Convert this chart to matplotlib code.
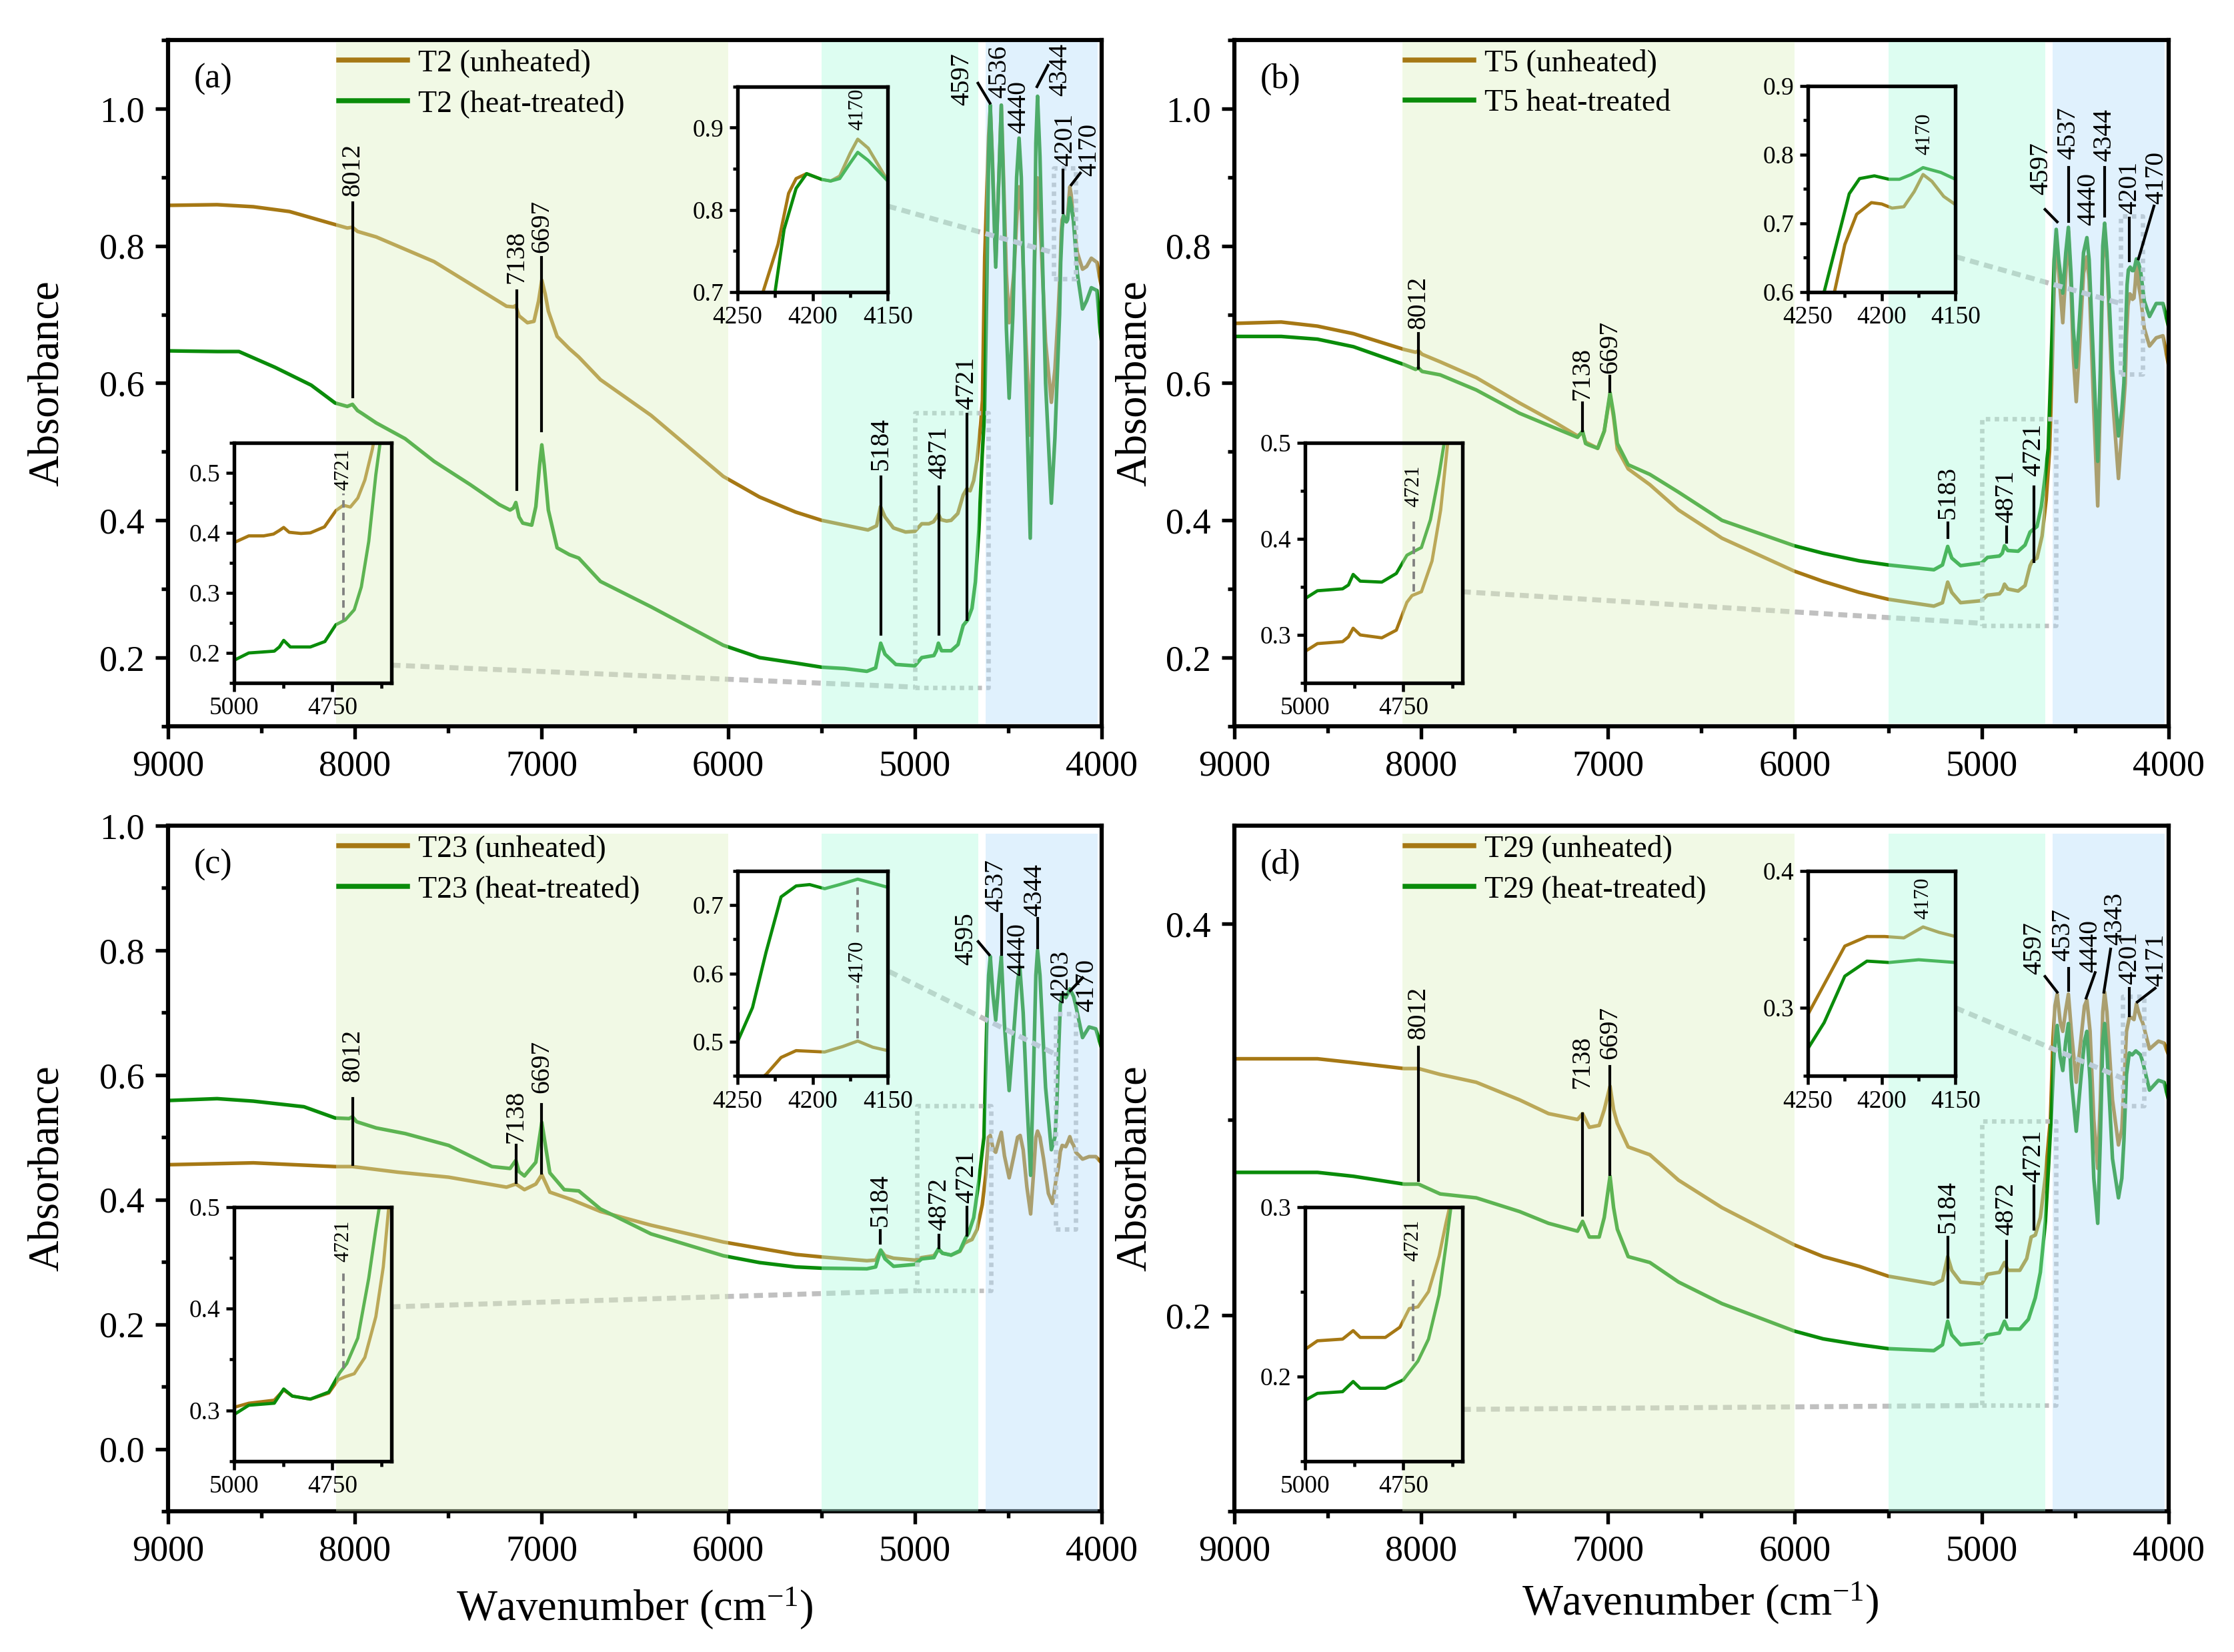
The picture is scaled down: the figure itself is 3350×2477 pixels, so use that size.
import numpy as np
import matplotlib
matplotlib.use('Agg')
import matplotlib.pyplot as plt
import matplotlib.transforms as mtransforms
from matplotlib.patches import Rectangle
from matplotlib.ticker import MultipleLocator

plt.rcParams['font.family'] = ['Liberation Serif', 'DejaVu Serif']
plt.rcParams['mathtext.fontset'] = 'custom'
plt.rcParams['mathtext.rm'] = 'Liberation Serif'
plt.rcParams['mathtext.it'] = 'Liberation Serif:italic'

# DATOS ====================================================================
# (a) T2
wn_a_u = [9000, 8737, 8543, 8349, 8105, 8040, 8012, 7985, 7885, 7575, 7342, 7187, 7150, 7138, 7120,
          7075, 7040, 7015, 6998, 6980, 6963, 6916, 6850, 6800, 6684, 6413, 6026, 5832, 5638, 5499,
          5251, 5205, 5184, 5160, 5115, 5050, 5000, 4963, 4925, 4900, 4885, 4874, 4860, 4830, 4806,
          4770, 4741, 4722, 4704, 4685, 4667, 4648, 4638, 4626, 4614, 4605, 4596, 4585, 4567, 4550,
          4537, 4525, 4510, 4495, 4470, 4452, 4442, 4430, 4405, 4382, 4365, 4352, 4343, 4330, 4300,
          4269, 4250, 4233, 4223, 4216, 4211, 4204, 4194, 4188, 4182, 4175, 4170, 4163, 4150, 4130,
          4102, 4080, 4055, 4025, 4007, 4000]
A_a_u = [0.859, 0.860, 0.857, 0.850, 0.831, 0.826, 0.827, 0.821, 0.813, 0.777, 0.738, 0.712, 0.711, 0.713, 0.698,
         0.688, 0.690, 0.720, 0.750, 0.730, 0.705, 0.668, 0.650, 0.638, 0.605, 0.553, 0.464, 0.434, 0.412, 0.400,
         0.386, 0.392, 0.420, 0.405, 0.389, 0.383, 0.384, 0.395, 0.395, 0.398, 0.404, 0.409, 0.401, 0.399, 0.400,
         0.410, 0.437, 0.446, 0.443, 0.458, 0.488, 0.539, 0.575, 0.783, 0.886, 0.960, 1.001, 0.930, 0.776, 0.900,
         1.005, 0.900, 0.760, 0.688, 0.760, 0.850, 0.886, 0.850, 0.660, 0.524, 0.700, 0.860, 0.899, 0.840, 0.660,
         0.572, 0.620, 0.700, 0.758, 0.820, 0.838, 0.844, 0.837, 0.835, 0.841, 0.869, 0.886, 0.875, 0.835, 0.790,
         0.766, 0.770, 0.782, 0.776, 0.749, 0.740]
wn_a_h = [9000, 8737, 8620, 8427, 8233, 8105, 8040, 8012, 7985, 7962, 7885, 7730, 7575, 7381, 7226,
          7168, 7150, 7137, 7120, 7100, 7052, 7030, 7010, 6998, 6985, 6963, 6916, 6850, 6800, 6684,
          6413, 6026, 5832, 5638, 5499, 5376, 5257, 5210, 5183, 5160, 5102, 5000, 4963, 4898, 4885,
          4874, 4857, 4806, 4769, 4741, 4717, 4694, 4676, 4657, 4639, 4626, 4614, 4605, 4596, 4585,
          4567, 4550, 4537, 4525, 4510, 4495, 4475, 4455, 4442, 4430, 4405, 4382, 4365, 4352, 4343,
          4330, 4300, 4269, 4250, 4225, 4219, 4211, 4204, 4194, 4188, 4182, 4175, 4170, 4163, 4150,
          4130, 4102, 4080, 4055, 4025, 4007, 4000]
A_a_h = [0.647, 0.646, 0.646, 0.623, 0.597, 0.571, 0.566, 0.569, 0.560, 0.556, 0.542, 0.519, 0.486, 0.452, 0.423,
         0.415, 0.418, 0.426, 0.405, 0.396, 0.393, 0.420, 0.480, 0.510, 0.480, 0.415, 0.360, 0.350, 0.345, 0.311,
         0.274, 0.218, 0.200, 0.192, 0.186, 0.184, 0.180, 0.185, 0.221, 0.205, 0.190, 0.188, 0.200, 0.203, 0.210,
         0.221, 0.210, 0.210, 0.219, 0.247, 0.255, 0.272, 0.310, 0.386, 0.497, 0.560, 0.749, 0.930, 1.005, 0.920,
         0.769, 0.900, 1.005, 0.880, 0.680, 0.578, 0.700, 0.900, 0.957, 0.900, 0.600, 0.374, 0.650, 0.950, 1.018,
         0.930, 0.600, 0.425, 0.520, 0.700, 0.776, 0.826, 0.844, 0.837, 0.835, 0.838, 0.857, 0.870, 0.860, 0.835,
         0.760, 0.708, 0.720, 0.739, 0.735, 0.674, 0.660]

# (b) T5
wn_b_u = [9000, 8749, 8555, 8362, 8091, 8030, 8014, 7995, 7898, 7705, 7473, 7279, 7163, 7136, 7120,
          7105, 7055, 7020, 6989, 6970, 6950, 6892, 6776, 6622, 6390, 6003, 5848, 5655, 5500, 5256,
          5210, 5182, 5160, 5113, 5000, 4969, 4905, 4890, 4878, 4860, 4805, 4768, 4741, 4728, 4704,
          4677, 4655, 4637, 4625, 4619, 4610, 4601, 4590, 4566, 4550, 4536, 4522, 4510, 4494, 4475,
          4455, 4437, 4425, 4400, 4379, 4365, 4352, 4342, 4330, 4300, 4268, 4250, 4232, 4225, 4217,
          4207, 4200, 4193, 4185, 4178, 4172, 4166, 4158, 4150, 4130, 4102, 4066, 4030, 4000]
A_b_u = [0.687, 0.689, 0.683, 0.672, 0.649, 0.645, 0.647, 0.642, 0.631, 0.608, 0.571, 0.542, 0.523, 0.528, 0.514,
         0.512, 0.505, 0.530, 0.582, 0.550, 0.504, 0.475, 0.452, 0.415, 0.374, 0.326, 0.311, 0.295, 0.285, 0.275,
         0.280, 0.310, 0.295, 0.280, 0.283, 0.291, 0.293, 0.298, 0.307, 0.300, 0.297, 0.305, 0.334, 0.341, 0.345,
         0.377, 0.430, 0.500, 0.600, 0.666, 0.760, 0.809, 0.770, 0.688, 0.760, 0.821, 0.740, 0.640, 0.573, 0.660,
         0.760, 0.784, 0.750, 0.560, 0.421, 0.580, 0.780, 0.824, 0.780, 0.580, 0.461, 0.530, 0.600, 0.669, 0.713,
         0.730, 0.728, 0.722, 0.724, 0.746, 0.771, 0.761, 0.739, 0.727, 0.680, 0.654, 0.666, 0.669, 0.626]
wn_b_h = [9000, 8749, 8555, 8362, 8091, 8030, 8014, 7995, 7898, 7705, 7473, 7279, 7163, 7136, 7120,
          7105, 7055, 7020, 6989, 6970, 6950, 6892, 6776, 6622, 6390, 6003, 5848, 5655, 5500, 5256,
          5210, 5182, 5160, 5113, 5000, 4969, 4905, 4890, 4878, 4860, 4805, 4768, 4741, 4723, 4704,
          4681, 4659, 4644, 4625, 4612, 4601, 4588, 4566, 4550, 4536, 4522, 4510, 4494, 4475, 4455,
          4437, 4425, 4400, 4379, 4365, 4352, 4342, 4330, 4300, 4268, 4250, 4239, 4229, 4222, 4215,
          4205, 4195, 4188, 4180, 4172, 4160, 4150, 4130, 4102, 4066, 4030, 4000]
A_b_h = [0.668, 0.668, 0.664, 0.653, 0.627, 0.620, 0.622, 0.617, 0.612, 0.590, 0.556, 0.534, 0.521, 0.530, 0.512,
         0.510, 0.505, 0.530, 0.586, 0.555, 0.512, 0.481, 0.467, 0.441, 0.400, 0.363, 0.352, 0.341, 0.335, 0.328,
         0.335, 0.362, 0.345, 0.334, 0.338, 0.346, 0.348, 0.352, 0.363, 0.356, 0.355, 0.364, 0.383, 0.387, 0.391,
         0.420, 0.467, 0.505, 0.660, 0.780, 0.824, 0.780, 0.731, 0.790, 0.827, 0.760, 0.680, 0.623, 0.700, 0.790,
         0.812, 0.780, 0.620, 0.486, 0.620, 0.800, 0.833, 0.790, 0.620, 0.523, 0.560, 0.600, 0.684, 0.743, 0.765,
         0.769, 0.764, 0.764, 0.771, 0.781, 0.774, 0.764, 0.720, 0.697, 0.716, 0.716, 0.682]

# (c) T23
wn_c_u = [9000, 8543, 8105, 8012, 7768, 7497, 7187, 7137, 7091, 7030, 6998, 6975, 6955, 6839, 6684,
          6413, 6026, 5638, 5499, 5257, 5210, 5183, 5160, 5114, 5000, 4963, 4898, 4874, 4852, 4806,
          4759, 4735, 4717, 4694, 4667, 4639, 4620, 4606, 4596, 4580, 4567, 4550, 4537, 4520, 4495,
          4470, 4450, 4436, 4420, 4400, 4380, 4365, 4352, 4343, 4330, 4311, 4285, 4263, 4245, 4231,
          4221, 4211, 4192, 4180, 4170, 4160, 4150, 4138, 4102, 4067, 4031, 4000]
A_c_u = [0.456, 0.459, 0.453, 0.453, 0.444, 0.436, 0.420, 0.425, 0.416, 0.425, 0.440, 0.425, 0.412, 0.400, 0.381,
         0.359, 0.332, 0.312, 0.308, 0.302, 0.303, 0.319, 0.310, 0.306, 0.303, 0.307, 0.310, 0.320, 0.314, 0.311,
         0.317, 0.330, 0.333, 0.336, 0.352, 0.392, 0.441, 0.500, 0.503, 0.480, 0.476, 0.495, 0.508, 0.470, 0.435,
         0.470, 0.500, 0.503, 0.480, 0.420, 0.377, 0.440, 0.500, 0.510, 0.500, 0.466, 0.410, 0.394, 0.430, 0.452,
         0.477, 0.487, 0.485, 0.493, 0.501, 0.492, 0.487, 0.476, 0.465, 0.469, 0.469, 0.459]
wn_c_h = [9000, 8737, 8543, 8272, 8105, 8030, 8012, 7990, 7885, 7730, 7497, 7265, 7168, 7137, 7120,
          7091, 7030, 6998, 6975, 6955, 6878, 6800, 6684, 6413, 6026, 5832, 5638, 5499, 5257, 5210,
          5183, 5160, 5114, 5000, 4963, 4898, 4874, 4852, 4806, 4759, 4731, 4713, 4685, 4657, 4639,
          4630, 4614, 4605, 4596, 4582, 4567, 4550, 4537, 4520, 4495, 4470, 4450, 4438, 4420, 4400,
          4380, 4365, 4352, 4343, 4330, 4300, 4269, 4250, 4240, 4231, 4221, 4211, 4202, 4192, 4182,
          4170, 4150, 4138, 4102, 4067, 4031, 4000]
A_c_h = [0.559, 0.562, 0.558, 0.549, 0.531, 0.530, 0.533, 0.525, 0.515, 0.506, 0.487, 0.453, 0.450, 0.463, 0.445,
         0.438, 0.460, 0.524, 0.480, 0.443, 0.416, 0.414, 0.385, 0.345, 0.310, 0.299, 0.292, 0.290, 0.289, 0.292,
         0.319, 0.305, 0.293, 0.296, 0.305, 0.307, 0.321, 0.314, 0.311, 0.318, 0.337, 0.346, 0.371, 0.430, 0.478,
         0.500, 0.691, 0.760, 0.790, 0.730, 0.688, 0.750, 0.790, 0.680, 0.575, 0.670, 0.750, 0.773, 0.700, 0.560,
         0.439, 0.600, 0.760, 0.800, 0.760, 0.580, 0.480, 0.500, 0.550, 0.631, 0.712, 0.728, 0.730, 0.724, 0.730,
         0.738, 0.726, 0.711, 0.660, 0.677, 0.674, 0.643]

# (d) T29
wn_d_u = [9000, 8749, 8555, 8362, 8091, 8014, 7898, 7705, 7473, 7318, 7163, 7136, 7100, 7047, 7020,
          6989, 6970, 6950, 6892, 6776, 6622, 6390, 6003, 5848, 5655, 5500, 5256, 5210, 5182, 5160,
          5113, 5000, 4969, 4905, 4878, 4860, 4796, 4759, 4735, 4713, 4686, 4659, 4641, 4632, 4619,
          4608, 4596, 4580, 4566, 4550, 4536, 4520, 4494, 4470, 4450, 4437, 4420, 4400, 4379, 4365,
          4352, 4342, 4330, 4300, 4268, 4250, 4239, 4225, 4210, 4198, 4185, 4172, 4161, 4150, 4137,
          4102, 4054, 4024, 4000]
A_d_u = [0.331, 0.331, 0.331, 0.329, 0.326, 0.326, 0.323, 0.319, 0.310, 0.303, 0.300, 0.303, 0.296, 0.297, 0.305,
         0.317, 0.305, 0.298, 0.286, 0.282, 0.269, 0.255, 0.236, 0.230, 0.225, 0.220, 0.216, 0.218, 0.230, 0.223,
         0.217, 0.216, 0.221, 0.222, 0.227, 0.223, 0.223, 0.229, 0.240, 0.241, 0.250, 0.271, 0.291, 0.300, 0.340,
         0.358, 0.364, 0.350, 0.345, 0.356, 0.364, 0.345, 0.319, 0.340, 0.358, 0.361, 0.345, 0.300, 0.275, 0.310,
         0.355, 0.365, 0.355, 0.310, 0.287, 0.295, 0.317, 0.345, 0.352, 0.352, 0.351, 0.359, 0.355, 0.352, 0.349,
         0.336, 0.340, 0.339, 0.333]
wn_d_h = [9000, 8749, 8555, 8362, 8091, 8014, 7898, 7705, 7473, 7318, 7163, 7136, 7100, 7047, 7020,
          6989, 6970, 6950, 6892, 6776, 6622, 6390, 6003, 5848, 5655, 5500, 5256, 5210, 5182, 5160,
          5113, 5000, 4969, 4905, 4878, 4860, 4796, 4750, 4713, 4686, 4659, 4641, 4626, 4612, 4596,
          4580, 4566, 4550, 4536, 4520, 4494, 4470, 4450, 4437, 4420, 4400, 4379, 4365, 4352, 4342,
          4330, 4300, 4268, 4250, 4239, 4225, 4210, 4195, 4175, 4150, 4137, 4102, 4054, 4024, 4000]
A_d_h = [0.273, 0.273, 0.273, 0.271, 0.267, 0.267, 0.262, 0.260, 0.253, 0.247, 0.243, 0.248, 0.240, 0.240, 0.250,
         0.271, 0.255, 0.244, 0.230, 0.227, 0.217, 0.206, 0.192, 0.188, 0.185, 0.183, 0.182, 0.185, 0.197, 0.190,
         0.185, 0.186, 0.190, 0.191, 0.197, 0.193, 0.193, 0.198, 0.209, 0.222, 0.248, 0.278, 0.305, 0.335, 0.348,
         0.332, 0.325, 0.340, 0.349, 0.320, 0.294, 0.320, 0.340, 0.345, 0.320, 0.270, 0.247, 0.290, 0.340, 0.349,
         0.335, 0.280, 0.260, 0.270, 0.289, 0.323, 0.334, 0.333, 0.335, 0.333, 0.329, 0.315, 0.320, 0.319, 0.310]

# etiquetas de picos: (texto, x texto, y texto, linea x0, y0, x1, y1)
ann_a = [('8012', 8012, 0.873, (8012, 0.580, 8012, 0.863)),
         ('7138', 7133, 0.745, (7133, 0.445, 7133, 0.735)),
         ('6697', 6998, 0.790, (6998, 0.530, 6998, 0.783)),
         ('5184', 5183, 0.473, (5183, 0.234, 5183, 0.463)),
         ('4871', 4870, 0.460, (4870, 0.234, 4870, 0.449)),
         ('4721', 4721, 0.562, (4721, 0.255, 4721, 0.555)),
         ('4597', 4748, 1.005, (4662, 1.037, 4598, 1.008)),
         ('4536', 4546, 1.015, None),
         ('4440', 4442, 0.964, None),
         ('4344', 4221, 1.018, (4346, 1.032, 4287, 1.063)),
         ('4201', 4192, 0.916, (4206, 0.848, 4206, 0.910)),
         ('4170', 4066, 0.902, (4162, 0.889, 4114, 0.906))]
ann_b = [('8012', 8014, 0.679, (8014, 0.622, 8014, 0.672)),
         ('7138', 7136, 0.575, (7136, 0.530, 7136, 0.571)),
         ('6697', 6989, 0.614, (6989, 0.588, 6989, 0.610)),
         ('5183', 5182, 0.402, (5182, 0.375, 5182, 0.396)),
         ('4871', 4867, 0.396, (4867, 0.368, 4867, 0.390)),
         ('4721', 4721, 0.464, (4721, 0.340, 4721, 0.449)),
         ('4597', 4681, 0.874, (4661, 0.853, 4596, 0.835)),
         ('4537', 4536, 0.926, (4536, 0.836, 4536, 0.914)),
         ('4440', 4429, 0.830, None),
         ('4344', 4342, 0.923, (4342, 0.843, 4342, 0.914)),
         ('4201', 4209, 0.846, (4209, 0.778, 4209, 0.840)),
         ('4170', 4066, 0.861, (4078, 0.858, 4161, 0.781))]
ann_c = [('8012', 8012, 0.589, (8012, 0.456, 8012, 0.562)),
         ('7138', 7137, 0.491, (7137, 0.427, 7137, 0.487)),
         ('6697', 6998, 0.571, (6998, 0.443, 6998, 0.553)),
         ('5184', 5186, 0.357, (5186, 0.330, 5186, 0.350)),
         ('4872', 4870, 0.350, (4870, 0.323, 4870, 0.343)),
         ('4721', 4721, 0.394, (4721, 0.343, 4721, 0.388)),
         ('4595', 4725, 0.776, (4661, 0.814, 4602, 0.793)),
         ('4537', 4564, 0.862, (4537, 0.793, 4537, 0.858)),
         ('4440', 4448, 0.759, None),
         ('4344', 4356, 0.855, (4343, 0.804, 4343, 0.851)),
         ('4203', 4215, 0.715, None),
         ('4170', 4079, 0.701, (4102, 0.756, 4168, 0.735))]
ann_d = [('8012', 8014, 0.341, (8014, 0.269, 8014, 0.337)),
         ('7138', 7136, 0.316, (7136, 0.251, 7136, 0.303)),
         ('6697', 6989, 0.331, (6989, 0.272, 6989, 0.327)),
         ('5184', 5182, 0.242, (5182, 0.199, 5182, 0.240)),
         ('4872', 4866, 0.241, (4866, 0.199, 4866, 0.238)),
         ('4721', 4721, 0.268, (4721, 0.244, 4721, 0.266)),
         ('4597', 4718, 0.374, (4661, 0.373, 4596, 0.365)),
         ('4537', 4566, 0.381, (4535, 0.366, 4535, 0.377)),
         ('4440', 4417, 0.375, (4393, 0.375, 4441, 0.362)),
         ('4343', 4286, 0.389, (4310, 0.387, 4346, 0.365)),
         ('4201', 4209, 0.369, (4209, 0.353, 4209, 0.367)),
         ('4171', 4066, 0.368, (4072, 0.367, 4167, 0.360))]

# GRAFICOS =================================================================
brown = '#A67814'
green = '#0A8C0A'
gris = '#C0C0C0'
zonas = [(8100, 6000, '#DCF2C0'), (5500, 4660, '#ACFADE'), (4620, 4020, '#B2DCFA')]

fig = plt.figure(figsize=(3350 / 300, 2477 / 300), dpi=300)


def sombrear(ax_dest, ax_main, y0, y1, z):
    tr = mtransforms.blended_transform_factory(ax_main.transData, ax_main.transAxes)
    for x0, x1, c in zonas:
        ax_dest.add_patch(Rectangle((x0, y0), x1 - x0, y1 - y0, transform=tr, facecolor=c,
                                    alpha=0.4, edgecolor='none', zorder=z))


def inset(ax, bounds, d, xlim, ylim, xmaj, ymaj, lab):
    ins = ax.inset_axes(bounds)
    ins.set_facecolor('white')
    ins.plot(d[0], d[1], color=brown, lw=1.15, zorder=2)
    ins.plot(d[2], d[3], color=green, lw=1.15, zorder=2)
    ins.set_xlim(*xlim); ins.set_ylim(*ylim)
    ins.xaxis.set_major_locator(MultipleLocator(xmaj)); ins.xaxis.set_minor_locator(MultipleLocator(xmaj / 2))
    ins.yaxis.set_major_locator(MultipleLocator(ymaj)); ins.yaxis.set_minor_locator(MultipleLocator(ymaj / 2))
    ins.tick_params(which='both', direction='out', labelsize=9, width=1.1, pad=2)
    ins.tick_params(which='major', length=3); ins.tick_params(which='minor', length=1.8)
    for s in ins.spines.values():
        s.set_linewidth(1.3)
    sombrear(ins, ax, 0, 1, 2.2)
    txt, tx, ty, segs = lab
    ins.text(tx, ty, txt, rotation=90, ha='center', va='bottom', fontsize=7.5, zorder=3)
    for y0, y1 in segs:
        ins.plot([tx, tx], [y0, y1], color='#808080', lw=0.9, dashes=(3, 2), zorder=3)
    return ins


def panel(pos, d, labels, tag, ylim, ylab_x, xlab, sy, ann, conns, ins_up, ins_low):
    ax = fig.add_axes(pos)
    ax.plot(d[0], d[1], color=brown, lw=1.3, label=labels[0], zorder=2)
    ax.plot(d[2], d[3], color=green, lw=1.3, label=labels[1], zorder=2)
    ax.set_xlim(9000, 4000); ax.set_ylim(*ylim)
    ax.xaxis.set_major_locator(MultipleLocator(1000)); ax.xaxis.set_minor_locator(MultipleLocator(500))
    ax.yaxis.set_major_locator(MultipleLocator(0.2)); ax.yaxis.set_minor_locator(MultipleLocator(0.1))
    ax.tick_params(which='both', direction='out', labelsize=13, width=1.3, pad=4)
    ax.tick_params(which='major', length=4.5); ax.tick_params(which='minor', length=2.5)
    for s in ax.spines.values():
        s.set_linewidth(1.5)
    ax.set_ylabel('Absorbance', fontsize=15.5)
    ax.yaxis.set_label_coords(ylab_x, 0.5)
    if xlab is not None:
        ax.set_xlabel(r'Wavenumber (cm$^{\mathregular{-1}}$)', fontsize=15.5)
        ax.xaxis.set_label_coords(xlab[0], xlab[1])
    ax.text(0.028, 0.943, tag, transform=ax.transAxes, fontsize=12.5, va='center', zorder=6)
    leg = ax.legend(loc='upper left', bbox_to_anchor=(0.183, 0.987), frameon=False, fontsize=11,
                    handlelength=2.25, handletextpad=0.35, labelspacing=0.38, borderpad=0, borderaxespad=0)
    for h in leg.get_lines():
        h.set_linewidth(1.8)
    leg.set_zorder(6)
    sombrear(ax, ax, sy[0], sy[1], 3)

    # conectores y recuadros de zoom
    for (x0, y0, x1, y1), (rx0, ry0, rx1, ry1) in conns:
        ax.plot([x0, x1], [y0, y1], color=gris, lw=1.8, dashes=(1.8, 1.1), zorder=2.1)
        ax.plot([rx0, rx1, rx1, rx0, rx0], [ry0, ry0, ry1, ry1, ry0], color=gris, lw=1.6,
                dashes=(1, 1), zorder=2.1)

    for txt, tx, ty, ln in ann:
        ax.text(tx, ty, txt, rotation=90, ha='center', va='bottom', fontsize=9.5, zorder=6)
        if ln is not None:
            ax.plot([ln[0], ln[2]], [ln[1], ln[3]], color='k', lw=1.0, zorder=6)

    inset(ax, ins_up[0], d, (4250, 4150), ins_up[1], 50, 0.1, ins_up[2])
    inset(ax, ins_low[0], d, (5000, 4600), ins_low[1], 250, 0.1, ins_low[2])
    return ax


da = (wn_a_u, A_a_u, wn_a_h, A_a_h)
db = (wn_b_u, A_b_u, wn_b_h, A_b_h)
dc = (wn_c_u, A_c_u, wn_c_h, A_c_h)
dd = (wn_d_u, A_d_u, wn_d_h, A_d_h)

panel([0.0752, 0.5604, 0.4179, 0.4154], da, ('T2 (unheated)', 'T2 (heat-treated)'), '(a)',
      (0.1, 1.1), -0.108, None, (0.004, 0.997), ann_a,
      [((5146, 0.858, 4257, 0.790), (4257, 0.752, 4138, 0.913)),
       ((7803, 0.189, 5000, 0.157), (5000, 0.156, 4605, 0.557))],
      ([0.610, 0.633, 0.161, 0.299], (0.7, 0.95), ('4170', 4170, 0.897, [])),
      ([0.071, 0.063, 0.168, 0.350], (0.15, 0.55), ('4721', 4722, 0.471, [(0.255, 0.465)])))

panel([0.5525, 0.5604, 0.4182, 0.4154], db, ('T5 (unheated)', 'T5 heat-treated'), '(b)',
      (0.1, 1.1), -0.085, None, (0.004, 0.997), ann_b,
      [((5137, 0.784, 4256, 0.716), (4256, 0.613, 4137, 0.843)),
       ((7782, 0.296, 4999, 0.250), (4999, 0.247, 4604, 0.548))],
      ([0.614, 0.633, 0.158, 0.300], (0.6, 0.9), ('4170', 4171, 0.800, [])),
      ([0.076, 0.063, 0.168, 0.350], (0.25, 0.5), ('4721', 4723, 0.433, [(0.345, 0.419)])))

panel([0.0752, 0.0852, 0.4179, 0.4150], dc, ('T23 (unheated)', 'T23 (heat-treated)'), '(c)',
      (-0.1, 1.0), -0.108, (0.50, -0.108), (0.0, 0.988), ann_c,
      [((5138, 0.766, 4245, 0.633), (4245, 0.353, 4138, 0.698)),
       ((7803, 0.228, 4989, 0.254), (4989, 0.254, 4593, 0.551))],
      ([0.610, 0.635, 0.161, 0.299], (0.45, 0.75), ('4170', 4170, 0.587, [(0.505, 0.583), (0.66, 0.73)])),
      ([0.071, 0.073, 0.168, 0.371], (0.25, 0.5), ('4721', 4722, 0.446, [(0.341, 0.435)])))

panel([0.5525, 0.0852, 0.4182, 0.4150], dd, ('T29 (unheated)', 'T29 (heat-treated)'), '(d)',
      (0.1, 0.45), -0.085, (0.499, -0.100), (0.0, 0.988), ann_d,
      [((5140, 0.357, 4245, 0.321), (4245, 0.307, 4131, 0.363)),
       ((7782, 0.152, 5000, 0.154), (5000, 0.154, 4602, 0.299))],
      ([0.614, 0.635, 0.158, 0.299], (0.25, 0.4), ('4170', 4172, 0.365, [])),
      ([0.076, 0.073, 0.168, 0.371], (0.15, 0.3), ('4721', 4725, 0.268, [(0.209, 0.257)])))

plt.savefig('out.png', dpi=300)
